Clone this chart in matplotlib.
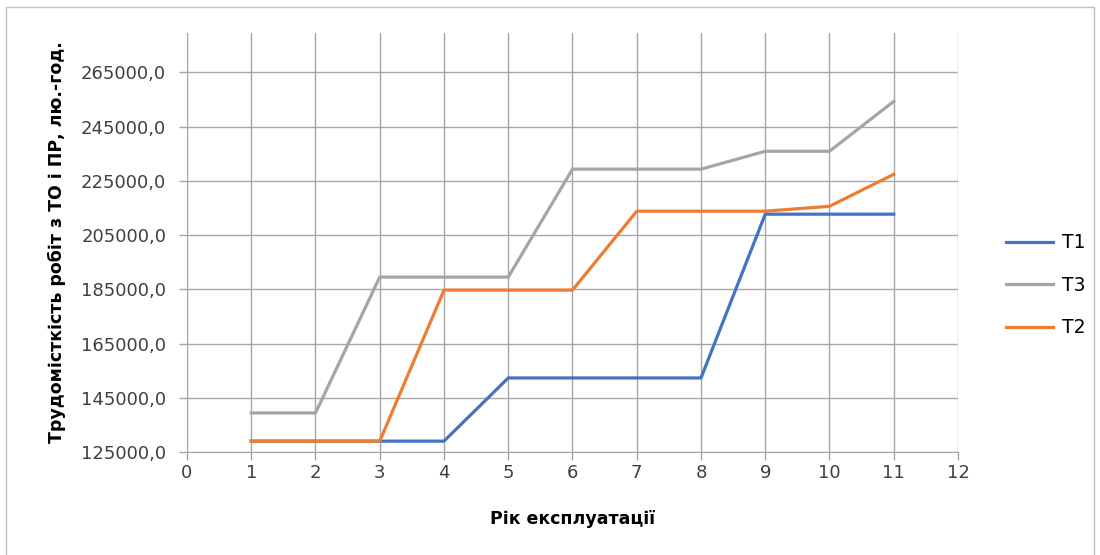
import matplotlib.pyplot as plt
from matplotlib.lines import Line2D
from matplotlib.ticker import FuncFormatter

# data
years = [1, 2, 3, 4, 5, 6, 7, 8, 9, 10, 11]
t1 = [129000, 129000, 129000, 129000, 152300, 152300, 152300, 152300, 212700, 212700, 212700]
t3 = [139400, 139400, 189500, 189500, 189500, 229300, 229300, 229300, 235900, 235900, 254300]
t2 = [129000, 129000, 129000, 184700, 184700, 184700, 213800, 213800, 213800, 215600, 227400]
y_ticks = [125000, 145000, 165000, 185000, 205000, 225000, 245000, 265000]
x_ticks = list(range(0, 13))

plt.rcParams['font.family'] = ['DejaVu Sans']

fig = plt.figure(figsize=(11, 5.55), dpi=100)
ax = fig.add_axes([0.17, 0.1856, 0.7009, 0.7549])

ax.plot(years, t1, color="#4472C4", lw=2.3, label="T1", zorder=3)
ax.plot(years, t3, color="#A5A5A5", lw=2.3, label="T3", zorder=3)
ax.plot(years, t2, color="#ED7D31", lw=2.3, label="T2", zorder=4)

ax.set_xlim(0, 12)
ax.set_ylim(125000, 279500)
ax.set_xticks(x_ticks)
ax.set_yticks(y_ticks)
ax.yaxis.set_major_formatter(FuncFormatter(lambda v, p: f"{v:.1f}".replace(".", ",")))
ax.grid(True, color="#A6A6A6", lw=1)
ax.set_axisbelow(True)
for s in ["top", "right"]:
    ax.spines[s].set_visible(False)
for s in ["left", "bottom"]:
    ax.spines[s].set_color("#A6A6A6")
ax.tick_params(axis="both", colors="#A6A6A6", labelcolor="#404040", labelsize=13, width=1)
ax.tick_params(axis="y", length=6, pad=9)
ax.tick_params(axis="x", length=6, pad=3)

ax.set_xlabel("Рік експлуатації", fontsize=12.5, fontweight="bold", labelpad=20)
ax.set_ylabel("Трудомісткість робіт з ТО і ПР, лю.-год.", fontsize=12.5, fontweight="bold", labelpad=11)

ax.legend(loc="center left", bbox_to_anchor=(1.04, 0.398), frameon=False, fontsize=13.5,
          handlelength=2.5, handletextpad=0.5, labelspacing=1.25)

# outer chart border
fig.add_artist(Line2D([6/1100, 6/1100, 1094/1100, 1094/1100], [0, 548/555, 548/555, 0],
                      color="#BFBFBF", lw=1, transform=fig.transFigure))

fig.savefig("out.png", dpi=100)
